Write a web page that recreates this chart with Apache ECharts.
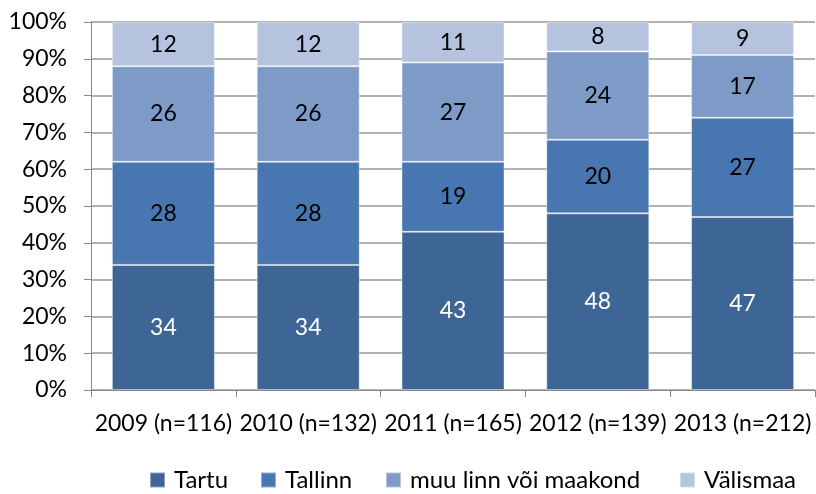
<!DOCTYPE html>
<html>
<head>
<meta charset="utf-8">
<script src="https://cdn.jsdelivr.net/npm/echarts@6/dist/echarts.min.js"></script>
<style>
  html, body { margin: 0; padding: 0; background: #fff; }
  #chart { width: 816px; height: 494px; }
</style>
</head>
<body>
<div id="chart"></div>
<script>
const categories = ["2009 (n=116)", "2010 (n=132)", "2011 (n=165)", "2012 (n=139)", "2013 (n=212)"];
const seriesNames = ["Tartu", "Tallinn", "muu linn või maakond", "Välismaa"];
const tartu = [34, 34, 43, 48, 47];
const tallinn = [28, 28, 19, 20, 27];
const muuLinn = [26, 26, 27, 24, 17];
const valismaa = [12, 12, 11, 8, 9];

const font = "Lato";
const colors = ["#3D6596", "#4876B0", "#7E9BC8", "#B5C3DF"];
const legendX = [149, 260, 385, 679];

const chart = echarts.init(document.getElementById("chart"));

function bar(i, data, labelColor) {
  return {
    name: seriesNames[i],
    type: "bar",
    stack: "total",
    barWidth: 103,
    data: data,
    itemStyle: { color: colors[i], borderColor: "rgba(255,255,255,0.4)", borderWidth: 1 },
    label: {
      show: true,
      position: "inside",
      color: labelColor,
      fontFamily: font,
      fontSize: 23
    }
  };
}

// one legend per item so each sits where the original one does
const legends = seriesNames.map(function (name, i) {
  return {
    top: 468,
    left: legendX[i],
    padding: 0,
    itemWidth: 15,
    itemHeight: 15,
    icon: "rect",
    textStyle: { fontFamily: font, fontSize: 24, color: "#000", padding: [0, 0, 0, 4] },
    data: [name]
  };
});

chart.setOption({
  animation: false,
  color: colors,
  grid: { left: 91, right: 1, top: 22, bottom: 104 },
  legend: legends,
  xAxis: {
    type: "category",
    data: categories,
    axisLine: { lineStyle: { color: "#888" } },
    axisTick: { show: true, length: 7, lineStyle: { color: "#888" } },
    axisLabel: { margin: 22, fontFamily: font, fontSize: 23, color: "#000", interval: 0 }
  },
  yAxis: {
    type: "value",
    min: 0,
    max: 100,
    interval: 10,
    axisLine: { show: true, lineStyle: { color: "#888" } },
    axisTick: { show: true, length: 7, lineStyle: { color: "#888" } },
    splitLine: { lineStyle: { color: "#999", width: 1.5 } },
    axisLabel: { margin: 24, fontFamily: font, fontSize: 23, color: "#000", formatter: "{value}%" }
  },
  series: [
    bar(0, tartu, "#fff"),
    bar(1, tallinn, "#000"),
    bar(2, muuLinn, "#000"),
    bar(3, valismaa, "#000")
  ]
});
</script>
</body>
</html>
